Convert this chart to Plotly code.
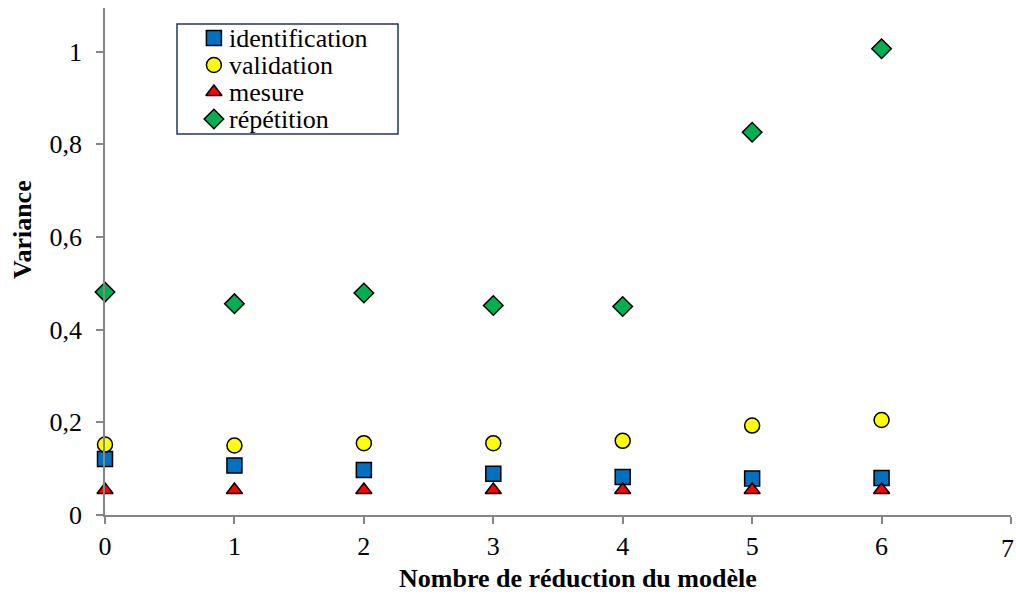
import plotly.graph_objects as go

x_vals = [0, 1, 2, 3, 4, 5, 6]
identification = [0.121, 0.107, 0.097, 0.089, 0.082, 0.079, 0.080]
validation = [0.152, 0.150, 0.155, 0.155, 0.160, 0.193, 0.205]
mesure = [0.054, 0.054, 0.054, 0.054, 0.054, 0.054, 0.054]
repetition = [0.481, 0.456, 0.479, 0.452, 0.450, 0.826, 1.006]
y_ticks = [0, 0.2, 0.4, 0.6, 0.8, 1]
x_ticks = [0, 1, 2, 3, 4, 5, 6, 7]
series_names = ["identification", "validation", "mesure", "répétition"]

W, H = 1016, 595
L, R, T, B = 105, 5, 8, 80
pw, ph = W - L - R, H - T - B

def px2paper_x(px):
    return (px - L) / pw

def px2paper_y(py):
    return (H - B - py) / ph

font = "Liberation Serif, Times New Roman, serif"
FS = 26
line = dict(color="black", width=1.5)
styles = [
    dict(symbol="square", size=15, color="#0070C0", line=line),
    dict(symbol="circle", size=15, color="#FFFF00", line=line),
    dict(symbol="triangle-up", size=14, color="#FF0000", line=line),
    dict(symbol="diamond", size=15, color="#00B050", line=line),
]
data = [identification, validation, mesure, repetition]

fig = go.Figure()
for name, vals, st in zip(series_names, data, styles):
    fig.add_trace(go.Scatter(x=x_vals, y=vals, mode="markers", name=name,
                             marker=st, cliponaxis=False, showlegend=False))

# legend box (custom, drawn on a hidden helper axis inside the box)
box_l, box_r, box_t, box_b = 177, 398, 24, 134
fig.add_shape(type="rect", xref="paper", yref="paper",
              x0=px2paper_x(box_l), x1=px2paper_x(box_r), y0=px2paper_y(box_b), y1=px2paper_y(box_t),
              line=dict(color="#1F3864", width=1.5), fillcolor="rgba(0,0,0,0)", layer="above")
n = len(series_names)
for i, (name, st) in enumerate(zip(series_names, styles)):
    yy = 1 - (i + 0.5) / n
    fig.add_trace(go.Scatter(x=[0.167], y=[yy], mode="markers", marker=st,
                             xaxis="x2", yaxis="y2", showlegend=False, hoverinfo="skip",
                             cliponaxis=False))
    fig.add_annotation(text=name, xref="x2", yref="y2", x=0.225, y=yy,
                       xanchor="left", yanchor="middle", showarrow=False,
                       font=dict(size=FS, family=font, color="black"))

# last x tick label sits at the page edge: plotly would hide it, so draw it as an annotation
x_ticktext = [str(v) for v in x_ticks[:-1]] + [""]

fig.update_layout(
    width=W, height=H, autosize=False,
    margin=dict(l=L, r=R, t=T, b=B),
    plot_bgcolor="white", paper_bgcolor="white",
    separators=", ",
    font=dict(family=font, size=FS, color="black"),
    showlegend=False,
    xaxis2=dict(domain=[px2paper_x(box_l), px2paper_x(box_r)], range=[0, 1], visible=False,
                anchor="y2", fixedrange=True),
    yaxis2=dict(domain=[px2paper_y(132.5), px2paper_y(24.5)], range=[0, 1], visible=False,
                anchor="x2", fixedrange=True),
    xaxis=dict(range=[0, 7], tickvals=x_ticks, ticktext=x_ticktext, showgrid=False, zeroline=False,
               showline=True, linecolor="#868686", linewidth=1.5,
               ticks="outside", ticklen=7, tickcolor="#868686", tickwidth=1.5,
               ticklabelstandoff=0,
               tickfont=dict(size=FS, family=font)),
    yaxis=dict(range=[0, 1.094], tickvals=y_ticks, showgrid=False, zeroline=False,
               showline=True, linecolor="#868686", linewidth=1.5,
               ticks="outside", ticklen=7, tickcolor="#868686", tickwidth=1.5,
               ticklabelstandoff=9,
               tickfont=dict(size=FS, family=font)),
)

fig.add_annotation(text=str(x_ticks[-1]), xref="x", yref="paper", x=x_ticks[-1],
                   y=px2paper_y(548), showarrow=False, xanchor="center", yanchor="middle",
                   xshift=-4, font=dict(size=FS, family=font, color="black"))
fig.add_annotation(text="<b>Variance</b>", xref="paper", yref="paper",
                   x=px2paper_x(22), y=px2paper_y(230), showarrow=False, textangle=-90,
                   font=dict(size=FS, family=font), xanchor="center", yanchor="middle")
fig.add_annotation(text="<b>Nombre de réduction du modèle</b>", xref="paper", yref="paper",
                   x=px2paper_x(578), y=px2paper_y(578), showarrow=False,
                   font=dict(size=FS, family=font), xanchor="center", yanchor="middle")

fig.write_html("out.html", config={"displayModeBar": False, "responsive": False},
               post_script="document.body.style.margin='0';document.body.style.overflow='hidden';")
